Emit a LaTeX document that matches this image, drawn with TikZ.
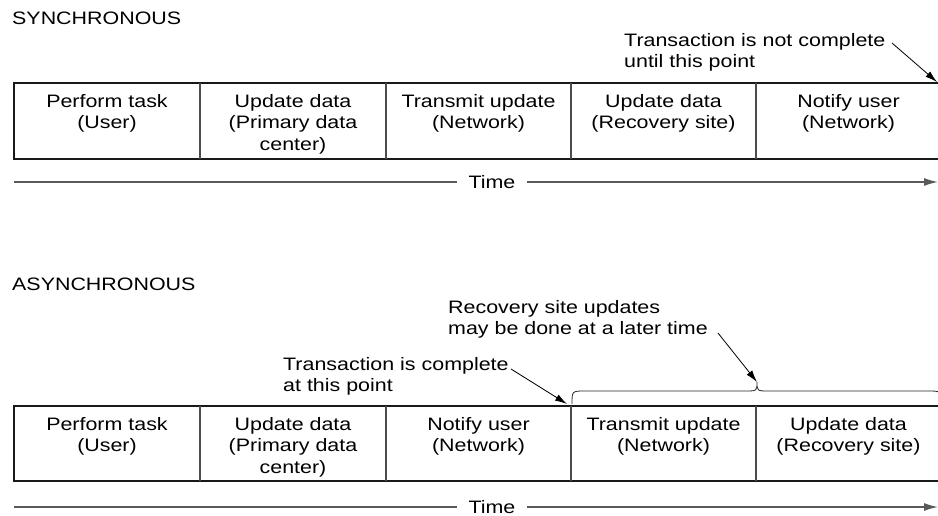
\documentclass[tikz,border=0pt]{standalone}
\usepackage{fontspec}
\setmainfont{Liberation Sans}[FakeStretch=1.19]
\usetikzlibrary{arrows.meta}
\begin{document}
\begin{tikzpicture}[x=1pt,y=-1pt,
  every node/.style={font=\fontsize{18}{21.5}\selectfont, inner sep=0pt},
  cell/.style={align=center, anchor=north},
  note/.style={align=left, anchor=north west},
  heading/.style={anchor=base west},
  timelabel/.style={fill=white, inner xsep=11pt, inner ysep=2pt},
  tbl/.style={line width=1.6pt, black!90},
  divider/.style={line width=1.2pt, black!70},
  timeline/.style={line width=1.4pt, black!65},
  timearrow/.style={line width=1.4pt, black!65, -{Latex[length=14pt,width=8pt]}},
  pointer/.style={line width=0.8pt, -{Latex[length=12pt,width=7pt]}},
  brace/.style={line width=0.8pt, black!85}]
\useasboundingbox (0,0) rectangle (938,516);

% ---------------- SYNCHRONOUS ----------------
\node[heading] (h1) at (12,25) {SYNCHRONOUS};

\draw[tbl] (14,83) rectangle (941,159);
\foreach \x in {200,386,571,756} \draw[divider] (\x,83) -- (\x,159);

\node[cell] (s1) at (107,94)   {Perform task\\(User)};
\node[cell] (s2) at (293,94)   {Update data\\(Primary data\\center)};
\node[cell] (s3) at (478.5,94) {Transmit update\\(Network)};
\node[cell] (s4) at (663.5,94) {Update data\\(Recovery site)};
\node[cell] (s5) at (848.5,94) {Notify user\\(Network)};

\node[note] (n1) at (624,33) {Transaction is not complete\\until this point};
\coordinate (n1s) at (892,43);
\coordinate (n1e) at (937,82);
\draw[pointer] (n1s) -- (n1e);

\coordinate (t1s) at (14,182);
\coordinate (t1e) at (938,182);
\node[timelabel] (time1) at (492,182) {Time};
\draw[timeline] (t1s) -- (time1.west);
\draw[timearrow] (time1.east) -- (t1e);

% ---------------- ASYNCHRONOUS ----------------
\node[heading] (h2) at (12,290) {ASYNCHRONOUS};

\draw[tbl] (14,406) rectangle (941,481);
\foreach \x in {200,386,571,756} \draw[divider] (\x,406) -- (\x,481);

\node[cell] (b1) at (107,417)   {Perform task\\(User)};
\node[cell] (b2) at (293,417)   {Update data\\(Primary data\\center)};
\node[cell] (b3) at (478.5,417) {Notify user\\(Network)};
\node[cell] (b4) at (663.5,417) {Transmit update\\(Network)};
\node[cell] (b5) at (848.5,417) {Update data\\(Recovery site)};

\node[note] (n2) at (448,300) {Recovery site updates\\may be done at a later time};
\node[note] (n3) at (283,357) {Transaction is complete\\at this point};

% brace over the deferred steps
\coordinate (brL) at (572,404);
\coordinate (brT) at (757,382);
\coordinate (brR) at (941,404);
\draw[brace] (brL) .. controls (572,391) .. (585,391) -- (745,391)
  .. controls (757,391) .. (brT) .. controls (757,391) .. (769,391)
  -- (928,391) .. controls (941,391) .. (brR);

\coordinate (n2s) at (718,333);
\draw[pointer] (n2s) -- (brT);
\coordinate (n3s) at (511,369);
\coordinate (n3e) at (567,404);
\draw[pointer] (n3s) -- (n3e);

\coordinate (t2s) at (14,507);
\coordinate (t2e) at (938,507);
\node[timelabel] (time2) at (492,507) {Time};
\draw[timeline] (t2s) -- (time2.west);
\draw[timearrow] (time2.east) -- (t2e);
\end{tikzpicture}
\end{document}
